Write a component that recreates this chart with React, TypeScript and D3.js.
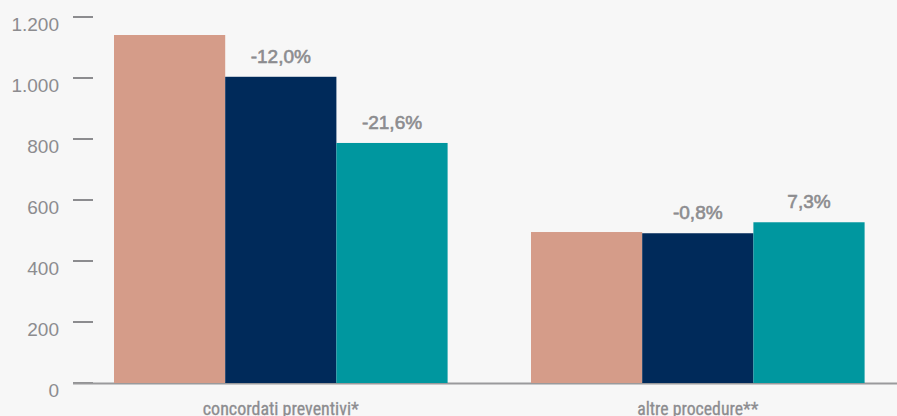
import React from "react";
import * as d3 from "d3";

const categories = ["concordati preventivi*", "altre procedure**"];
const seriesNames = ["anno 1", "anno 2", "anno 3"];
const series1 = [1141, 495];
const series2 = [1004, 491];
const series3 = [787, 527];
const changeLabels2 = ["-12,0%", "-0,8%"];
const changeLabels3 = ["-21,6%", "7,3%"];
const yTicks = [0, 200, 400, 600, 800, 1000, 1200];
const yTickLabels = ["0", "200", "400", "600", "800", "1.000", "1.200"];

const colors = ["#d59c89", "#002a5a", "#00979f"];

const W = 897;
const H = 416;

export default function App() {
  const x = d3
    .scaleBand<string>()
    .domain(categories)
    .range([72.3, 906.3])
    .paddingInner(0.2)
    .paddingOuter(0.1);
  const xi = d3
    .scaleBand<string>()
    .domain(seriesNames)
    .range([0, x.bandwidth()])
    .padding(0);
  const y = d3.scaleLinear().domain([0, 1200]).range([383, 17]);

  const seriesVals = [series1, series2, series3];
  const labels: (string[] | null)[] = [null, changeLabels2, changeLabels3];
  const grey = "#8c8c8f";

  return (
    <svg
      width={W}
      height={H}
      style={{ position: "absolute", left: 0, top: 0, display: "block" }}
      fontFamily="'Liberation Sans', Arial, sans-serif"
    >
      <rect x={0} y={0} width={W} height={H} fill="#f7f7f7" />
      {yTicks.map((t, i) => (
        <g key={t}>
          <line x1={73} x2={93} y1={y(t)} y2={y(t)} stroke={grey} strokeWidth={2} />
          <text
            x={59}
            y={y(t) + 14}
            textAnchor="end"
            fontSize={19}
            fill={grey}
          >
            {yTickLabels[i]}
          </text>
        </g>
      ))}
      <line x1={73} x2={W} y1={y(0) + 0.5} y2={y(0) + 0.5} stroke="#9a9a9c" strokeWidth={2} />
      {categories.map((c, ci) =>
        seriesVals.map((vals, si) => (
          <rect
            key={c + si}
            x={(x(c) as number) + (xi(seriesNames[si]) as number)}
            y={y(vals[ci])}
            width={xi.bandwidth()}
            height={y(0) - y(vals[ci])}
            fill={colors[si]}
          />
        ))
      )}
      {categories.map((c, ci) =>
        labels.map((lab, si) =>
          lab ? (
            <text
              key={"l" + c + si}
              x={(x(c) as number) + (xi(seriesNames[si]) as number) + xi.bandwidth() / 2}
              y={y(seriesVals[si][ci]) - 14}
              textAnchor="middle"
              fontSize={19}
              fill={grey}
              stroke={grey}
              strokeWidth={0.6}
            >
              {lab[ci]}
            </text>
          ) : null
        )
      )}
      {categories.map((c, ci) => (
        <text
          key={"c" + c}
          x={(x(c) as number) + x.bandwidth() / 2}
          y={415}
          textAnchor="middle"
          fontSize={19}
          fill={grey}
          stroke={grey}
          strokeWidth={0.3}
          fontFamily="'Liberation Sans Narrow', 'Roboto Condensed', 'DejaVu Sans Condensed', sans-serif"
          textLength={ci === 0 ? 156 : 121}
          lengthAdjust="spacingAndGlyphs"
        >
          {c}
        </text>
      ))}
    </svg>
  );
}
